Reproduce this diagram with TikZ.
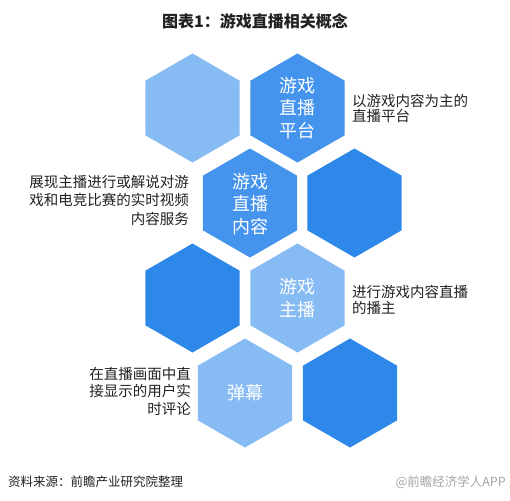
\documentclass[tikz,border=0pt]{standalone}
\usepackage{fontspec}
\setmainfont{Noto Sans CJK SC}
\usetikzlibrary{shapes.geometric}
\definecolor{hexlight}{HTML}{86BBF4}
\definecolor{hexmid}{HTML}{4493EC}
\definecolor{hexdark}{HTML}{2E88EA}
\definecolor{txt}{HTML}{222222}
\begin{document}
\begin{tikzpicture}[x=1pt,y=-1pt,
  hexa/.style={regular polygon, regular polygon sides=6, shape border rotate=30,
    minimum size=109pt, inner sep=0pt, outer sep=0pt, draw=none},
  hextext/.style={text=white, font=\fontsize{18}{22.5}\selectfont, align=center, inner sep=0pt},
  sidel/.style={text=txt, align=left, anchor=north west, inner sep=0pt},
  sider/.style={text=txt, align=right, anchor=north east, inner sep=0pt}]
\useasboundingbox (0,0) rectangle (510,500);
\fill[white] (0,0) rectangle (510,500);
\node[font=\fontsize{16}{18}\bfseries, text=txt] (title) at (255,21) {图表1：游戏直播相关概念};
% hexagons
\node[hexa, fill=hexlight] (h1) at (192.5,108) {};
\node[hexa, fill=hexmid]   (h2) at (297.5,108) {};
\node[hexa, fill=hexmid]   (h3) at (250,203) {};
\node[hexa, fill=hexdark]  (h4) at (354.5,203) {};
\node[hexa, fill=hexdark]  (h5) at (192.5,298) {};
\node[hexa, fill=hexlight] (h6) at (297.5,298) {};
\node[hexa, fill=hexlight] (h7) at (245,393) {};
\node[hexa, fill=hexdark]  (h8) at (350,393) {};
% hex texts
\node[hextext] (t2) at (h2.center) {游戏\\直播\\平台};
\node[hextext] (t3) at ([yshift=-1pt]h3.center) {游戏\\直播\\内容};
\node[hextext] (t6) at (h6.center) {游戏\\主播};
\node[hextext] (t7) at (h7.center) {弹幕};
% side texts
\node[sidel, font=\fontsize{14.5}{15}\selectfont] (s2) at (352,94) {以游戏内容为主的\\直播平台};
\node[sider, font=\fontsize{14.5}{18.5}\selectfont] (s3) at (189,175) {展现主播进行或解说对游\\戏和电竞比赛的实时视频\\内容服务};
\node[sidel, font=\fontsize{14.5}{16}\selectfont] (s6) at (352,285) {进行游戏内容直播\\的播主};
\node[sider, font=\fontsize{14.5}{17.5}\selectfont] (s7) at (191,367) {在直播画面中直\\接显示的用户实\\时评论};
% footer
\node[anchor=west, inner sep=0pt, text=txt, font=\fontsize{12.5}{14}\selectfont] (src) at (8,482) {资料来源：前瞻产业研究院整理};
\node[anchor=east, inner sep=0pt, text=black!35, font=\fontsize{12.5}{14}\selectfont] (wm) at (506,482) {@前瞻经济学人APP};
\end{tikzpicture}
\end{document}
